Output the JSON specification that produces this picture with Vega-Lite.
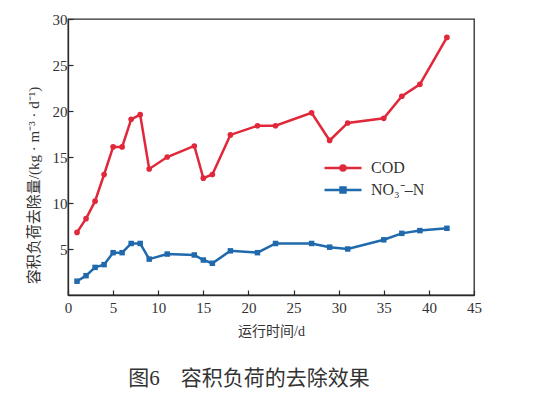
{
  "$schema": "https://vega.github.io/schema/vega-lite/v6.json",
  "width": 406,
  "height": 276,
  "autosize": "none",
  "padding": {"left": 68, "top": 19, "right": 60, "bottom": 102},
  "background": "white",
  "config": {
    "view": {"stroke": "#2a2a2a", "strokeWidth": 1.3},
    "font": "Liberation Serif",
    "axis": {
      "domainColor": "#2a2a2a",
      "domainWidth": 1.3,
      "tickColor": "#2a2a2a",
      "tickWidth": 1.2,
      "tickSize": -5,
      "grid": false,
      "labelFont": "Liberation Serif",
      "labelFontSize": 15,
      "labelColor": "#333",
      "labelFlush": false,
      "labelOverlap": false,
      "labelBound": false,
      "titleFont": "Liberation Serif, Noto Sans CJK SC",
      "titleFontSize": 14,
      "titleFontWeight": "normal",
      "titleColor": "#333"
    }
  },
  "title": {
    "text": "图6　容积负荷的去除效果",
    "orient": "bottom",
    "anchor": "middle",
    "font": "Liberation Serif, Noto Sans CJK SC",
    "fontSize": 21,
    "fontWeight": "normal",
    "color": "#333",
    "offset": 30,
    "dx": -22
  },
  "data": {
    "values": [
      {"day": 1, "value": 6.8, "series": "COD"},
      {"day": 2, "value": 8.3, "series": "COD"},
      {"day": 3, "value": 10.2, "series": "COD"},
      {"day": 4, "value": 13.1, "series": "COD"},
      {"day": 5, "value": 16.1, "series": "COD"},
      {"day": 6, "value": 16.1, "series": "COD"},
      {"day": 7, "value": 19.1, "series": "COD"},
      {"day": 8, "value": 19.6, "series": "COD"},
      {"day": 9, "value": 13.7, "series": "COD"},
      {"day": 11, "value": 15.0, "series": "COD"},
      {"day": 14, "value": 16.2, "series": "COD"},
      {"day": 15, "value": 12.7, "series": "COD"},
      {"day": 16, "value": 13.1, "series": "COD"},
      {"day": 18, "value": 17.4, "series": "COD"},
      {"day": 21, "value": 18.4, "series": "COD"},
      {"day": 23, "value": 18.4, "series": "COD"},
      {"day": 27, "value": 19.8, "series": "COD"},
      {"day": 29, "value": 16.8, "series": "COD"},
      {"day": 31, "value": 18.7, "series": "COD"},
      {"day": 35, "value": 19.2, "series": "COD"},
      {"day": 37, "value": 21.6, "series": "COD"},
      {"day": 39, "value": 22.9, "series": "COD"},
      {"day": 42, "value": 28.0, "series": "COD"},
      {"day": 1, "value": 1.5, "series": "NO₃⁻–N"},
      {"day": 2, "value": 2.1, "series": "NO₃⁻–N"},
      {"day": 3, "value": 3.0, "series": "NO₃⁻–N"},
      {"day": 4, "value": 3.3, "series": "NO₃⁻–N"},
      {"day": 5, "value": 4.6, "series": "NO₃⁻–N"},
      {"day": 6, "value": 4.6, "series": "NO₃⁻–N"},
      {"day": 7, "value": 5.6, "series": "NO₃⁻–N"},
      {"day": 8, "value": 5.6, "series": "NO₃⁻–N"},
      {"day": 9, "value": 3.9, "series": "NO₃⁻–N"},
      {"day": 11, "value": 4.45, "series": "NO₃⁻–N"},
      {"day": 14, "value": 4.35, "series": "NO₃⁻–N"},
      {"day": 15, "value": 3.8, "series": "NO₃⁻–N"},
      {"day": 16, "value": 3.45, "series": "NO₃⁻–N"},
      {"day": 18, "value": 4.8, "series": "NO₃⁻–N"},
      {"day": 21, "value": 4.6, "series": "NO₃⁻–N"},
      {"day": 23, "value": 5.6, "series": "NO₃⁻–N"},
      {"day": 27, "value": 5.6, "series": "NO₃⁻–N"},
      {"day": 29, "value": 5.2, "series": "NO₃⁻–N"},
      {"day": 31, "value": 5.0, "series": "NO₃⁻–N"},
      {"day": 35, "value": 6.0, "series": "NO₃⁻–N"},
      {"day": 37, "value": 6.7, "series": "NO₃⁻–N"},
      {"day": 39, "value": 7.0, "series": "NO₃⁻–N"},
      {"day": 42, "value": 7.25, "series": "NO₃⁻–N"}
    ]
  },
  "encoding": {
    "x": {
      "field": "day",
      "type": "quantitative",
      "scale": {"domain": [0, 45], "nice": false},
      "axis": {
        "title": "运行时间/d",
        "values": [0, 5, 10, 15, 20, 25, 30, 35, 40, 45],
        "labelPadding": 10,
        "titlePadding": 9,
        "labelExpr": "datum.value == 0 ? '0\u00a0\u00a0\u00a0\u00a0\u00a0' : datum.value"
      }
    },
    "y": {
      "field": "value",
      "type": "quantitative",
      "scale": {"domain": [0, 30], "nice": false},
      "axis": {
        "title": "容积负荷去除量/(kg · m⁻³ · d⁻¹)",
        "values": [5, 10, 15, 20, 25, 30],
        "labelPadding": 6,
        "titlePadding": 11,
        "titleFontSize": 15,
        "titleY": 166
      }
    },
    "color": {
      "field": "series",
      "type": "nominal",
      "sort": ["COD", "NO₃⁻–N"],
      "scale": {"domain": ["COD", "NO₃⁻–N"], "range": ["#e0283a", "#1f69ac"]},
      "legend": {
        "title": null,
        "orient": "none",
        "legendX": 267,
        "legendY": 141,
        "padding": 0,
        "symbolType": "M-3,0L3,0M-0.4,0A0.4,0.4 0 1,0 0.4,0A0.4,0.4 0 1,0 -0.4,0Z",
        "symbolSize": 152,
        "symbolStrokeWidth": 2.5,
        "labelOffset": 20,
        "labelFont": "Liberation Serif",
        "labelFontSize": 16,
        "labelColor": "#333",
        "rowPadding": 6,
        "encode": {
          "symbols": {
            "update": {
              "shape": {"signal": "datum.value === 'COD' ? 'M-3,0L3,0M-0.4,0A0.4,0.4 0 1,0 0.4,0A0.4,0.4 0 1,0 -0.4,0Z' : 'M-3,0L3,0M-0.4,-0.4L0.4,-0.4L0.4,0.4L-0.4,0.4Z'"},
              "fillOpacity": {"value": 1},
              "strokeOpacity": {"value": 1}
            }
          }
        }
      }
    }
  },
  "layer": [
    {"mark": {"type": "line", "strokeWidth": 2.5}},
    {
      "transform": [{"filter": "datum.series === 'COD'"}],
      "mark": {"type": "point", "shape": "circle", "filled": true, "opacity": 1, "size": 32}
    },
    {
      "transform": [{"filter": "datum.series !== 'COD'"}],
      "mark": {"type": "point", "shape": "square", "filled": true, "opacity": 1, "size": 30}
    }
  ]
}
